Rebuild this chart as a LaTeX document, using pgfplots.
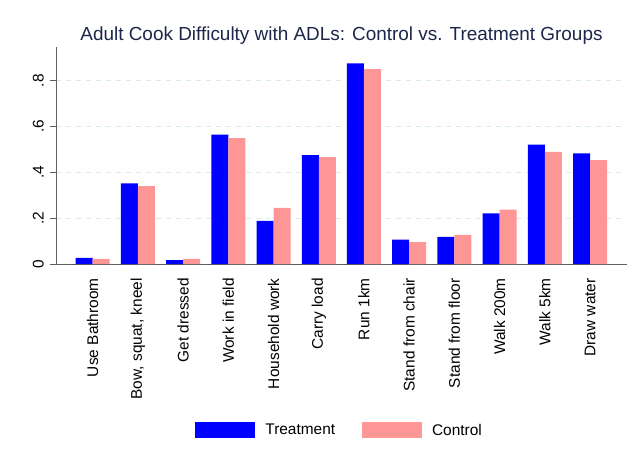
\documentclass[border=0pt]{standalone}
\usepackage{fontspec}
\setmainfont{Liberation Sans}
\usepackage{pgfplots}
\pgfplotsset{compat=1.18}
\definecolor{treat}{RGB}{0,0,255}
\definecolor{ctrl}{RGB}{255,150,150}
\definecolor{gridc}{RGB}{218,234,234}
\definecolor{axc}{RGB}{95,95,95}
\definecolor{titlec}{RGB}{28,38,72}
\begin{document}
\begin{tikzpicture}
\useasboundingbox (-56bp,-200bp) rectangle (576bp,264bp);
\begin{axis}[
  at={(0,0)}, anchor=south west,
  scale only axis, width=571bp, height=216.7bp,
  clip=false,
  xmin=-0.812, xmax=11.818, ymin=0, ymax=0.946,
  axis x line*=bottom, axis y line*=left,
  axis line style={axc, line width=0.8bp},
  xtick={0,...,11},
  xticklabels={Use Bathroom,{Bow, squat, kneel},Get dressed,Work in field,Household work,Carry load,Run 1km,Stand from chair,Stand from floor,Walk 200m,Walk 5km,Draw water},
  xticklabel style={rotate=90, anchor=east, inner sep=0pt, font=\fontsize{15.5}{18}\selectfont},
  xticklabel shift=7.7bp,
  xtick style={draw=none},
  ytick={0,0.2,0.4,0.6,0.8},
  yticklabels={0,.2,.4,.6,.8},
  yticklabel style={rotate=90, anchor=base, inner sep=0pt, font=\fontsize{15.5}{18}\selectfont},
  yticklabel shift=6bp,
  ytick style={axc, line width=0.8bp},
  tick align=outside, major tick length=6.4bp,
  ymajorgrids,
  major grid style={gridc, dash pattern=on 5bp off 5bp, line width=0.8bp},
  legend image code/.code={\fill[#1] (0bp,-8bp) rectangle (60bp,8bp);},
  legend style={at={(0.4947,0)}, anchor=center, yshift=-166.3bp, draw=none, fill=none,
    legend columns=-1, font=\fontsize{15.5}{18}\selectfont,
    nodes={inner sep=0pt, anchor=west},
    /tikz/every odd column/.append style={column sep=10.3bp},
    /tikz/every even column/.append style={column sep=26.6bp}},
]
\addplot[ybar, bar width=17bp, bar shift=-8.5bp, fill=treat, draw=none] coordinates {
(0,0.027) (1,0.352) (2,0.017) (3,0.565) (4,0.188) (5,0.475) (6,0.876) (7,0.106) (8,0.118) (9,0.221) (10,0.521) (11,0.483)};
\addlegendentry{Treatment}
\addplot[ybar, bar width=17bp, bar shift=8.5bp, fill=ctrl, draw=none] coordinates {
(0,0.022) (1,0.340) (2,0.022) (3,0.549) (4,0.245) (5,0.467) (6,0.851) (7,0.096) (8,0.127) (9,0.237) (10,0.489) (11,0.453)};
\addlegendentry{Control}
\node[anchor=base, font=\fontsize{19}{22}\selectfont, text=titlec, inner sep=0pt] at (rel axis cs:0.5,1) [yshift=6.6bp] {Adult Cook Difficulty with ADLs: Control vs. Treatment Groups};
\end{axis}
\end{tikzpicture}
\end{document}
